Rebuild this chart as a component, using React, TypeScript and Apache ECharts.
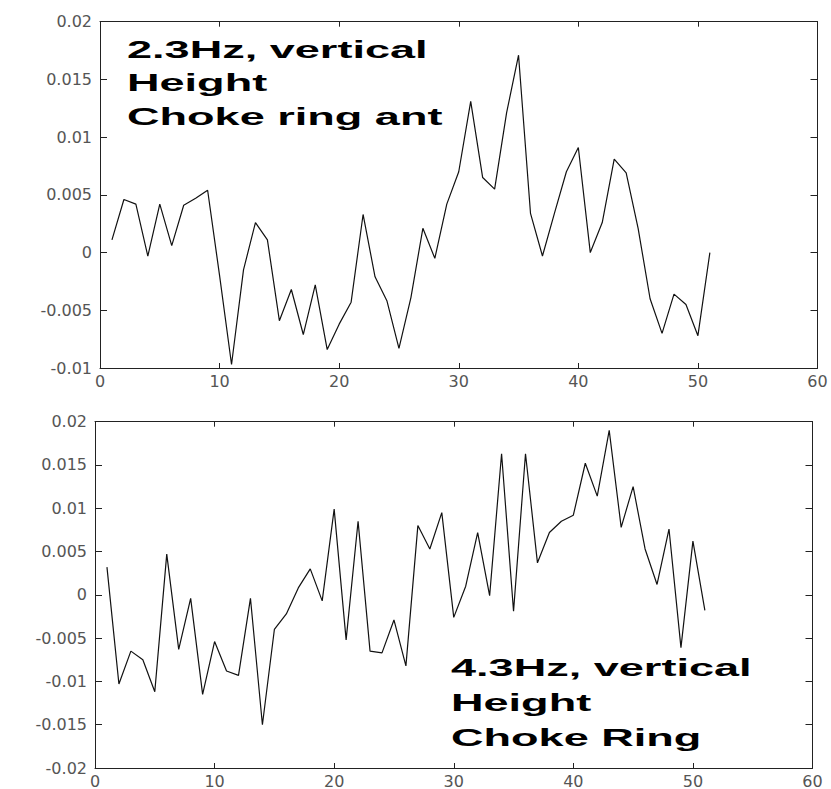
import React, { useEffect, useRef } from "react";
import * as echarts from "echarts";

const topValues = [
  0.0011, 0.0046, 0.0042, -0.0003, 0.0042, 0.0006, 0.0041, 0.0047, 0.0054, -0.002,
  -0.0097, -0.0015, 0.0026, 0.0011, -0.0059, -0.0032, -0.0071, -0.0028, -0.0084, -0.0062,
  -0.0043, 0.0033, -0.0021, -0.0042, -0.0083, -0.0039, 0.0021, -0.0005, 0.0042, 0.007,
  0.0131, 0.0065, 0.0055, 0.0121, 0.0171, 0.0034, -0.0003, 0.0034, 0.007, 0.0091,
  0.0, 0.0026, 0.0081, 0.0069, 0.0021, -0.004, -0.007, -0.0036, -0.0045, -0.0072, 0.0,
];

const bottomValues = [
  0.0032, -0.0103, -0.0065, -0.0075, -0.0112, 0.0047, -0.0063, -0.0004, -0.0115, -0.0054,
  -0.0088, -0.0093, -0.0004, -0.015, -0.004, -0.0022, 0.0008, 0.003, -0.0007, 0.0099,
  -0.0052, 0.0085, -0.0065, -0.0067, -0.0029, -0.0082, 0.008, 0.0053, 0.0095, -0.0026,
  0.001, 0.0072, -0.0001, 0.0163, -0.0019, 0.0163, 0.0037, 0.0072, 0.0085, 0.0092,
  0.0152, 0.0114, 0.019, 0.0078, 0.0125, 0.0053, 0.0012, 0.0076, -0.0061, 0.0062, -0.0018,
];

const topLabel = ["2.3Hz, vertical", "Height", "Choke ring ant"];
const bottomLabel = ["4.3Hz, vertical", "Height", "Choke Ring"];

const xRange = { min: 0, max: 60, interval: 10 };
const topY = { min: -0.01, max: 0.02, interval: 0.005 };
const bottomY = { min: -0.02, max: 0.02, interval: 0.005 };

const AXIS_COLOR = "#222";
const LABEL_COLOR = "#555";
const LABEL_FONT = "DejaVu Sans";

function fmt(v: number) {
  return String(parseFloat(Number(v).toPrecision(6)));
}

function xAxes(gridIndex: number) {
  const base = {
    type: "value",
    gridIndex,
    ...xRange,
    axisLine: { show: true, onZero: false, lineStyle: { color: AXIS_COLOR, width: 1 } },
    axisTick: { show: true, inside: true, length: 5, lineStyle: { color: AXIS_COLOR } },
    splitLine: { show: false },
  };
  return [
    {
      ...base,
      position: "bottom",
      axisLabel: {
        show: true,
        color: LABEL_COLOR,
        fontFamily: LABEL_FONT,
        fontSize: 16,
        margin: 5,
        formatter: fmt,
      },
    },
    { ...base, position: "top", axisLabel: { show: false } },
  ];
}

function yAxes(gridIndex: number, range: any) {
  const base = {
    type: "value",
    gridIndex,
    ...range,
    axisLine: { show: true, onZero: false, lineStyle: { color: AXIS_COLOR, width: 1 } },
    axisTick: { show: true, inside: true, length: 7, lineStyle: { color: AXIS_COLOR } },
    splitLine: { show: false },
  };
  return [
    {
      ...base,
      position: "left",
      axisLabel: {
        show: true,
        color: LABEL_COLOR,
        fontFamily: LABEL_FONT,
        fontSize: 16,
        margin: 8,
        formatter: fmt,
      },
    },
    { ...base, position: "right", axisLabel: { show: false } },
  ];
}

function annotation(lines: string[], x: number, yMid: number, gap: number) {
  return lines.map((t, i) => ({
    type: "text",
    x,
    y: yMid + i * gap,
    scaleX: 1.96,
    scaleY: 1,
    silent: true,
    style: {
      text: t,
      fill: "#000",
      font: "bold 23px 'Liberation Sans', Arial, sans-serif",
      textAlign: "left",
      textVerticalAlign: "middle",
      verticalAlign: "middle",
    },
  }));
}

export default function App() {
  const ref = useRef<HTMLDivElement>(null);

  useEffect(() => {
    if (!ref.current) return;
    const chart = echarts.init(ref.current, undefined, { renderer: "svg" });
    const option: any = {
      animation: false,
      backgroundColor: "#fff",
      grid: [
        { left: 100, right: 13.5, top: 21.7, height: 346.3 },
        { left: 95, right: 18.5, top: 421.7, height: 346.6 },
      ],
      xAxis: [...xAxes(0), ...xAxes(1)],
      yAxis: [...yAxes(0, topY), ...yAxes(1, bottomY)],
      series: [
        {
          type: "line",
          xAxisIndex: 0,
          yAxisIndex: 0,
          data: topValues.map((v, i) => [i + 1, v]),
          symbol: "none",
          lineStyle: { color: "#111", width: 1.2 },
        },
        {
          type: "line",
          xAxisIndex: 2,
          yAxisIndex: 2,
          data: bottomValues.map((v, i) => [i + 1, v]),
          symbol: "none",
          lineStyle: { color: "#111", width: 1.2 },
        },
      ],
      graphic: [
        ...annotation(topLabel, 127, 50.5, 33.2),
        ...annotation(bottomLabel, 451, 668.5, 35),
      ],
    };
    chart.setOption(option);
    return () => chart.dispose();
  }, []);

  return (
    <div
      ref={ref}
      style={{ position: "absolute", left: 0, top: 0, width: 831, height: 789, background: "#fff" }}
    />
  );
}
